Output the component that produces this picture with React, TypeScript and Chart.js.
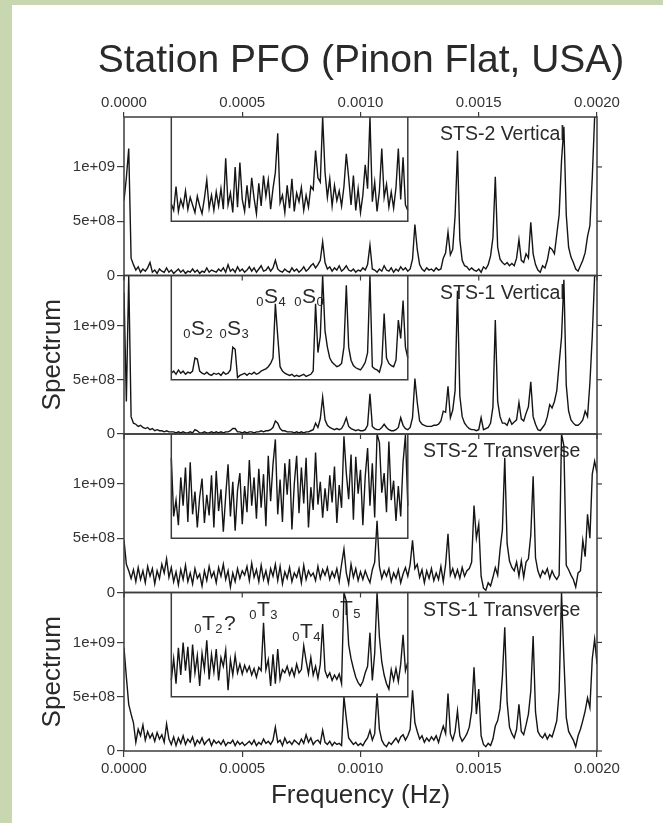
import React, { useEffect, useRef } from "react";
import { Chart, registerables } from "chart.js";

Chart.register(...registerables);

const FONT = "'Liberation Sans', Arial, Helvetica, sans-serif";

// ---- data (spectrum amplitude in units of 1e8, sampled every 10 µHz) ----
const FREQ_STEP_UHZ = 10;
const MAIN_START_UHZ = 0;
const INSET_START_UHZ = 200;
const INSET_END_UHZ = 1200;
const INSET_BASE = 5; // inset box sits on the 5e+08 level
const Y_MAX = 14.6;

const xTickValues = [0, 0.0005, 0.001, 0.0015, 0.002];
const yTickValues = [0, 5, 10];
const yTickLabels = ["0", "5e+08", "1e+09"];

const panelNames = ["STS-2 Vertical", "STS-1 Vertical", "STS-2 Transverse", "STS-1 Transverse"];

const sts2Vertical = [
  6.9, 9.0, 11.7, 1.6, 1.0, 0.5, 0.8, 0.3, 0.6, 0.4,
  0.7, 1.2, 0.3, 0.5, 0.2, 0.6, 0.4, 0.3, 0.7, 0.3,
  0.5, 0.2, 0.4, 0.6, 0.3, 0.5, 0.2, 0.4, 0.3, 0.6,
  0.3, 0.5, 0.2, 0.4, 0.3, 0.7, 0.3, 0.5, 0.4, 0.3,
  0.6, 0.4, 0.7, 0.3, 1.0, 0.4, 0.6, 0.3, 0.8, 0.4,
  0.6, 0.3, 0.5, 0.8, 0.4, 0.7, 0.3, 0.6, 0.9, 0.4,
  0.5, 0.8, 0.4, 0.7, 1.4, 0.6, 0.4, 0.3, 0.6, 0.4,
  0.3, 0.7, 0.4, 0.6, 0.3, 0.5, 0.8, 0.4, 0.6, 0.9,
  1.1, 0.7, 1.0, 1.4, 3.1, 1.2, 0.6, 0.8, 0.4, 0.7,
  0.5, 0.9, 0.4, 0.6, 0.9, 0.5, 0.4, 0.6, 0.3, 0.5,
  0.4, 0.7, 0.5, 1.0, 2.8, 0.6, 0.5, 0.3, 0.6, 0.4,
  0.9, 0.5, 0.4, 0.7, 0.3, 0.6, 0.4, 0.8, 0.5, 0.7,
  0.4, 0.6, 1.5, 4.7, 2.4, 1.0, 0.6, 0.4, 0.7, 0.5,
  0.6, 0.4, 0.7, 0.5, 0.6, 1.6, 2.1, 4.0, 1.9, 2.4,
  5.5, 11.5, 3.3, 1.4, 0.9, 0.8, 0.5, 0.7, 0.5, 0.4,
  0.6, 0.3, 0.8, 0.6, 1.0, 1.8, 3.5, 9.1, 2.6, 1.5,
  1.2, 1.0, 1.2, 0.9, 1.1, 0.9, 1.6, 3.3, 1.4, 1.2,
  2.0, 1.6, 4.9, 2.0, 1.0, 0.5, 0.3, 0.9, 0.7, 1.4,
  2.6, 2.4, 2.0, 3.8, 5.6, 10.6, 13.7, 5.6, 2.6, 1.7,
  1.2, 0.6, 0.4, 0.9, 1.4, 2.1, 3.6, 4.6, 9.0, 14.6,
  14.6,
];

const sts1Vertical = [
  13.0, 3.0, 14.6, 1.6, 1.0, 0.9, 0.7, 0.8, 0.6, 0.5,
  0.6, 0.4, 0.5, 0.3, 0.4, 0.3, 0.3, 0.2, 0.3, 0.2,
  0.2, 0.2, 0.1, 0.2, 0.1, 0.2, 0.1, 0.1, 0.2, 0.1,
  0.4, 0.3, 0.1, 0.1, 0.2, 0.1, 0.1, 0.2, 0.1, 0.2,
  0.1, 0.2, 0.1, 0.2, 0.2, 0.3, 0.5, 0.5, 0.2, 0.2,
  0.1, 0.2, 0.1, 0.2, 0.2, 0.1, 0.2, 0.2, 0.3, 0.2,
  0.3, 0.3, 0.4, 0.6, 1.2, 1.0, 0.5, 0.3, 0.3, 0.2,
  0.2, 0.2, 0.1, 0.2, 0.1, 0.2, 0.1, 0.2, 0.2, 0.3,
  0.4, 1.0, 0.6, 1.4, 3.4, 1.3, 0.8, 0.6, 0.5, 0.4,
  0.5, 0.4, 0.5, 0.9, 1.5, 0.7, 0.5, 0.4, 0.3, 0.4,
  0.3, 0.3, 0.4, 0.8, 3.7, 0.7, 0.5, 0.4, 0.4, 0.6,
  0.9, 0.6, 0.4, 0.3, 0.3, 0.4, 0.6, 1.5, 0.8, 0.5,
  0.4, 0.6, 1.5, 5.1, 2.9, 1.2, 0.9, 0.8, 0.7, 0.7,
  0.7, 0.8, 0.8, 0.9, 1.2, 2.1, 2.0, 4.4, 1.5, 2.2,
  4.0, 13.2, 3.5, 1.6, 1.0, 0.7, 0.5, 0.4, 0.4, 0.3,
  0.4, 1.5, 0.4, 0.5, 0.6, 1.0, 2.5, 10.5, 3.0, 1.6,
  1.0, 1.0, 0.8, 1.4, 0.9, 1.1, 1.3, 2.9, 1.4, 1.2,
  1.9, 2.5, 4.8, 1.6, 0.9, 0.4, 0.3, 0.6, 0.9, 1.6,
  2.7, 2.4, 3.0, 4.0, 6.5, 8.9, 14.2, 4.5, 2.1, 1.3,
  1.0, 0.8, 0.8, 1.0, 1.3, 2.1, 1.6, 4.7, 9.0, 14.6,
  14.6,
];

const sts2Transverse = [
  4.8, 2.6, 2.0, 1.3, 2.1, 1.0, 2.3, 1.2, 2.0, 0.9,
  2.4, 1.5, 2.2, 0.8, 2.0, 1.3, 2.6, 1.8, 3.1, 1.4,
  2.3, 1.0, 1.9, 0.7, 2.1, 1.2, 2.5, 1.0, 1.8, 0.8,
  2.2, 1.3, 1.7, 0.6, 2.0, 1.1, 2.4, 1.4, 1.9, 0.9,
  2.3, 1.5, 2.6, 1.2, 2.0, 0.5, 1.8, 1.0, 2.2, 1.3,
  2.0, 1.6, 2.4, 1.1, 2.7, 1.4, 2.1, 1.0, 2.5, 1.2,
  2.0, 0.9, 2.2, 1.5, 2.6, 1.1, 2.4, 0.8, 1.9, 1.3,
  2.3, 1.0, 1.8, 1.4, 2.2, 0.9, 2.5, 1.2, 2.0, 1.5,
  1.8, 1.1, 2.4, 1.3, 2.1, 1.6, 2.3, 1.2, 1.9, 1.4,
  2.2, 1.0, 2.6, 4.0, 1.8, 0.8, 2.6, 1.4, 2.2, 1.1,
  1.9, 1.2, 2.0, 1.4, 0.9, 2.1, 2.8, 6.6, 2.4, 1.3,
  2.0, 1.5, 2.2, 1.0, 1.8, 1.3, 2.1, 0.9, 1.7, 2.3,
  1.5, 2.6, 4.8, 2.2, 2.6, 1.4, 2.1, 0.9, 2.0, 1.3,
  2.2, 1.1, 1.8, 1.2, 2.4, 1.0, 2.6, 5.4, 1.6, 2.2,
  1.4, 2.1, 1.3, 2.3, 1.5, 2.0, 2.2, 2.8, 8.0, 5.0,
  6.3, 1.5, 0.4, 0.2, 0.9, 0.6, 1.4, 2.3, 1.6, 3.9,
  5.8, 12.4, 4.5, 2.9, 2.3, 2.0, 2.8, 1.5, 2.9, 1.4,
  2.8, 3.1, 5.3, 10.7, 3.2, 2.0, 1.4, 2.0, 1.7, 2.2,
  1.3, 2.0, 1.5, 1.2, 1.6, 14.6, 13.5, 2.5, 2.1, 1.6,
  1.2, 0.5, 1.8, 2.0, 4.8, 3.3, 7.2, 5.0, 10.9, 12.1,
  11.0,
];

const sts1Transverse = [
  9.5, 6.8, 4.3, 3.4, 2.6, 0.8, 2.0, 1.4, 2.4, 1.0,
  1.8, 1.2, 1.6, 0.9, 1.7, 1.1, 1.5, 0.8, 2.5, 1.1,
  0.6, 1.3, 0.5, 1.2, 0.7, 1.4, 0.6, 1.1, 0.8, 1.3,
  0.5, 1.0, 0.7, 1.2, 0.6, 0.9, 1.1, 0.5, 1.0, 0.7,
  0.9, 0.6, 1.0, 0.5, 0.8, 0.7, 1.0, 0.5, 0.9, 0.6,
  0.8, 0.5, 0.7, 0.9, 0.6, 1.0, 0.5, 0.8, 0.6, 1.1,
  0.7, 0.9, 0.6, 1.0, 2.2, 0.8, 1.0, 0.5, 1.2, 0.7,
  0.9, 0.6, 1.0, 0.8, 0.6, 1.1, 0.7, 1.5, 0.8, 1.2,
  0.6, 0.9, 1.0, 0.7, 1.9, 0.8, 0.6, 0.9, 0.5, 0.8,
  0.6, 0.7, 0.5, 5.0, 3.0, 1.2, 0.9, 0.6, 0.8, 0.5,
  0.7, 0.5, 0.9, 1.2, 1.9, 1.0, 1.6, 5.3, 2.0, 1.0,
  0.6, 0.4, 0.8, 0.6, 0.9, 1.2, 0.8, 1.3, 1.5, 1.0,
  1.4, 2.0, 5.6, 2.6, 1.8, 1.1, 1.4, 0.8, 1.2, 0.9,
  1.3, 1.0, 1.4, 0.8, 1.6, 2.3, 1.6, 5.3, 1.6, 1.0,
  1.8, 3.7, 1.4, 0.9, 1.2, 1.6, 2.2, 3.7, 7.7, 3.4,
  5.7, 1.4, 0.6, 0.4, 0.7, 0.5, 1.1, 2.3, 2.8, 3.9,
  6.9, 11.4, 4.5, 2.2, 1.6, 1.2, 2.0, 4.3, 1.8, 1.5,
  2.4, 3.4, 5.5, 10.6, 3.6, 1.8, 1.4, 1.2, 1.6, 1.1,
  1.5, 1.3, 2.0, 2.8, 5.5, 14.6, 8.5, 3.1, 1.8, 1.4,
  1.0, 0.4, 1.4, 2.0, 2.8, 3.7, 4.9, 4.0, 8.5, 10.3,
  8.0,
];

// magnified views, 0.2–1.2 mHz, drawn inside the inset box (values on the panel's axis)
const sts2VerticalInset = [
  6.6, 6.0, 8.2, 5.9, 7.0, 6.3, 7.8, 6.1, 7.2, 6.5,
  5.8, 7.3, 6.4, 5.7, 7.1, 8.8, 6.2, 7.4, 6.0, 7.7,
  6.4, 8.0, 6.1, 10.8, 6.5, 7.6, 5.8, 10.0, 6.3, 10.4,
  7.0, 5.9, 8.3, 6.2, 9.0, 7.1, 5.7, 8.5, 6.4, 9.2,
  7.3, 8.8, 6.1, 8.0, 9.5, 13.1, 6.7, 7.4, 5.8, 8.3,
  6.2, 8.9, 5.9, 7.6, 6.8, 8.1, 6.0, 7.4, 6.3, 8.2,
  7.9, 11.5, 9.0, 8.6, 14.6, 9.5, 7.2, 8.9, 6.4, 8.3,
  6.9, 7.8, 6.4, 8.2, 11.2, 9.0, 6.5, 9.2, 6.0, 8.0,
  5.8, 7.4, 10.2, 8.0, 14.6, 6.8, 8.6, 5.9, 7.8, 11.7,
  7.2, 8.4, 6.3, 7.7, 6.2, 8.1, 11.7, 7.0, 10.9, 6.5,
  6.0,
];

const sts1VerticalInset = [
  5.6, 5.8, 5.5, 5.9, 5.6, 5.8, 5.5, 5.7, 5.6, 5.8,
  7.0, 6.9, 5.8, 5.6, 5.5, 5.7, 5.5, 5.4, 5.6, 5.5,
  5.6, 5.4, 5.7, 5.5, 5.6, 5.9, 8.0, 7.8, 5.2, 5.4,
  5.5, 5.6, 5.4, 5.6, 5.5, 5.7, 5.5, 5.6, 5.8, 5.9,
  6.0, 6.2, 6.5, 7.0, 12.0, 9.0, 6.2, 5.8, 5.6, 5.5,
  5.4, 5.5, 5.3, 5.4, 5.3, 5.4, 5.5, 5.3, 5.4, 5.5,
  5.8, 12.0, 7.5, 9.0, 14.6, 9.5, 8.0, 7.0, 6.6, 6.4,
  6.2, 6.3, 6.5, 8.0, 13.7, 8.0, 6.8, 6.3, 6.1, 6.0,
  5.9, 6.2, 6.6, 7.5, 14.6, 6.2, 6.0, 5.9, 5.7, 6.5,
  11.1, 7.0, 6.5, 6.3, 6.2, 6.8, 10.5, 8.8, 12.3, 8.0,
  7.0,
];

const sts2TransverseInset = [
  12.4, 7.0, 8.5, 6.2, 10.6, 8.0, 11.5, 6.5, 12.0, 7.2,
  9.3, 6.0, 8.8, 10.5, 6.4, 9.0, 7.1, 10.8, 6.0, 11.2,
  7.5, 9.5, 5.6, 8.9, 11.8, 7.0, 10.2, 5.7, 9.4, 11.0,
  6.3, 9.8, 7.4, 12.2, 8.0, 10.6, 6.8, 11.4, 7.8, 10.9,
  6.1, 12.6, 8.4, 11.8, 14.1, 7.2, 10.4, 6.5, 11.9, 9.0,
  12.3, 5.8, 10.0, 12.6, 7.3, 11.5, 8.2, 12.4, 6.0, 9.7,
  7.6, 12.9, 8.1, 10.2, 6.9, 9.6, 7.5, 10.8, 8.3, 11.6,
  6.4, 9.9, 7.8, 14.4, 11.0, 8.6, 12.7, 6.7, 12.5, 9.1,
  11.3, 6.2, 10.7, 13.3, 8.0, 11.9, 6.9, 14.6, 13.8, 9.2,
  11.0, 7.4, 13.9, 8.5, 10.3, 6.6, 9.8, 7.0, 12.0, 14.5,
  8.0,
];

const sts1TransverseInset = [
  6.5, 8.5, 6.2, 9.5, 7.0, 10.0, 7.4, 9.6, 6.3, 9.8,
  7.2, 8.8, 6.0, 9.0, 7.5, 10.2, 6.6, 8.9, 7.3, 9.4,
  6.5, 8.6, 7.8, 9.3, 5.6, 8.4, 7.0, 8.8, 7.2, 8.0,
  7.1, 7.9, 7.3, 7.8, 7.0, 7.6, 6.8, 7.7, 7.4, 11.8,
  7.5, 8.4, 6.0, 8.9, 6.2, 9.4, 6.6, 7.5, 7.2, 7.8,
  7.0, 7.6, 6.9, 8.0, 7.2, 7.5, 9.7, 8.3, 7.1, 8.6,
  7.0, 7.8, 6.7, 8.0, 11.7, 7.4, 6.8, 7.2, 6.5, 7.0,
  6.6, 7.1, 6.2, 14.6, 13.8, 9.8, 8.5, 7.6, 6.8, 6.3,
  6.0, 6.4, 7.2, 7.8, 10.9, 6.5, 9.0, 14.6, 10.5, 8.2,
  7.0, 6.2, 5.7, 7.5, 6.5, 7.6, 6.4, 8.0, 10.7, 7.4,
  8.2,
];

// mode annotations: panel index, subscript before, letter, subscript after, tail, anchor (µHz, 1e8)
const modeNotes = [
  { panel: 1, pre: "0", main: "S", post: "2", tail: "", f: 283, v: 9.8 },
  { panel: 1, pre: "0", main: "S", post: "3", tail: "", f: 436, v: 9.8 },
  { panel: 1, pre: "0", main: "S", post: "4", tail: "", f: 592, v: 12.8 },
  { panel: 1, pre: "0", main: "S", post: "0", tail: "", f: 753, v: 12.8 },
  { panel: 3, pre: "0", main: "T", post: "2", tail: "?", f: 330, v: 11.8 },
  { panel: 3, pre: "0", main: "T", post: "3", tail: "", f: 562, v: 13.1 },
  { panel: 3, pre: "0", main: "T", post: "4", tail: "", f: 744, v: 11.1 },
  { panel: 3, pre: "0", main: "T", post: "5", tail: "", f: 913, v: 13.2 },
];

const panelMain = [sts2Vertical, sts1Vertical, sts2Transverse, sts1Transverse];
const panelInset = [sts2VerticalInset, sts1VerticalInset, sts2TransverseInset, sts1TransverseInset];
const panelAxisIds = ["y1", "y2", "y3", "y4"];
const panelLabelFreqUHz = [1336, 1336, 1264, 1264];

const toPoints = (vals: number[], startUHz: number) =>
  vals.map((v, i) => ({ x: (startUHz + i * FREQ_STEP_UHZ) * 1e-6, y: v }));

const LINE = "#151515";
const FRAME = "#3c3c3c";
const TEXT = "#2a2a2a";

const decorPlugin = {
  id: "decor",
  beforeDraw(chart: any) {
    const { ctx, width, height } = chart;
    ctx.save();
    ctx.fillStyle = "#c9d7b1";
    ctx.fillRect(0, 0, width, height);
    ctx.fillStyle = "#ffffff";
    ctx.fillRect(12, 5, width - 12, height - 5);
    ctx.fillStyle = TEXT;
    ctx.font = `39px ${FONT}`;
    ctx.textAlign = "center";
    ctx.textBaseline = "alphabetic";
    ctx.fillText("Station PFO (Pinon Flat, USA)", 361, 72);
    ctx.restore();
  },
  beforeDatasetsDraw(chart: any) {
    const { ctx } = chart;
    const xs = chart.scales.x;
    ctx.save();
    ctx.fillStyle = TEXT;
    ctx.textAlign = "left";
    ctx.textBaseline = "middle";
    ctx.font = `19.5px ${FONT}`;
    panelAxisIds.forEach((id, i) => {
      const s = chart.scales[id];
      ctx.fillText(panelNames[i], xs.getPixelForValue(panelLabelFreqUHz[i] * 1e-6), s.top + 18);
    });
    ctx.textBaseline = "alphabetic";
    modeNotes.forEach((n) => {
      const s = chart.scales[panelAxisIds[n.panel]];
      const x = xs.getPixelForValue(n.f * 1e-6);
      const base = s.getPixelForValue(n.v) + 7.5;
      ctx.font = `13px ${FONT}`;
      const pw = ctx.measureText(n.pre).width;
      ctx.fillText(n.pre, x - pw - 0.5, base + 3);
      ctx.font = `21px ${FONT}`;
      ctx.fillText(n.main, x, base);
      const mw = ctx.measureText(n.main).width;
      ctx.font = `13px ${FONT}`;
      ctx.fillText(n.post, x + mw + 0.5, base + 3);
      const qw = ctx.measureText(n.post).width;
      if (n.tail) {
        ctx.font = `21px ${FONT}`;
        ctx.fillText(n.tail, x + mw + qw + 2, base);
      }
    });
    ctx.restore();
  },
  afterDatasetsDraw(chart: any) {
    const { ctx, chartArea } = chart;
    const xs = chart.scales.x;
    ctx.save();
    ctx.strokeStyle = FRAME;
    ctx.lineWidth = 1.5;
    panelAxisIds.forEach((id, i) => {
      const s = chart.scales[id];
      ctx.strokeRect(chartArea.left, s.top, chartArea.right - chartArea.left, s.bottom - s.top);
      const ix0 = xs.getPixelForValue(INSET_START_UHZ * 1e-6);
      const ix1 = xs.getPixelForValue(INSET_END_UHZ * 1e-6);
      const iyb = s.getPixelForValue(INSET_BASE);
      ctx.beginPath();
      ctx.moveTo(ix0, s.top);
      ctx.lineTo(ix0, iyb);
      ctx.lineTo(ix1, iyb);
      ctx.lineTo(ix1, s.top);
      ctx.stroke();
      ctx.lineWidth = 1.2;
      yTickValues.forEach((v) => {
        const y = s.getPixelForValue(v);
        ctx.beginPath();
        ctx.moveTo(chartArea.right, y);
        ctx.lineTo(chartArea.right + 5, y);
        ctx.stroke();
      });
      if (i < 3) {
        xTickValues.forEach((v) => {
          const x = xs.getPixelForValue(v);
          ctx.beginPath();
          ctx.moveTo(x, s.bottom);
          ctx.lineTo(x, s.bottom + 5);
          ctx.stroke();
        });
      }
      ctx.lineWidth = 1.5;
    });
    ctx.restore();
  },
};

const xTickCallback = (v: any) => Number(v).toFixed(4);

function makeXScale(position: "top" | "bottom") {
  const isBottom = position === "bottom";
  return {
    type: "linear",
    position,
    min: 0,
    max: 0.002,
    afterBuildTicks: (s: any) => {
      s.ticks = xTickValues.map((v) => ({ value: v }));
    },
    afterFit: (s: any) => {
      s.height = isBottom ? 72 : 117;
    },
    ticks: {
      callback: xTickCallback,
      autoSkip: false,
      maxRotation: 0,
      color: "#333",
      padding: isBottom ? 3 : 0,
      font: { family: FONT, size: 15 },
    },
    grid: { drawOnChartArea: false, tickLength: isBottom ? 6 : 5, color: FRAME, lineWidth: 1.2 },
    border: { display: false },
    title: {
      display: isBottom,
      text: "Frequency (Hz)",
      color: TEXT,
      font: { family: FONT, size: 26 },
      padding: { top: 0, bottom: 12 },
    },
  };
}

function makeYScale(i: number) {
  return {
    type: "linear",
    position: "left",
    stack: "panels",
    stackWeight: 1,
    weight: 4 - i,
    min: 0,
    max: Y_MAX,
    afterBuildTicks: (s: any) => {
      s.ticks = yTickValues.map((v) => ({ value: v }));
    },
    afterFit: (s: any) => {
      s.width = 124;
    },
    ticks: {
      callback: (v: any) => yTickLabels[yTickValues.indexOf(Number(v))] ?? "",
      color: "#333",
      padding: 2,
      font: { family: FONT, size: 15 },
    },
    grid: { drawOnChartArea: false, tickLength: 7, color: FRAME, lineWidth: 1.2 },
    border: { display: false },
    title: {
      display: i === 1 || i === 3,
      text: "Spectrum",
      color: TEXT,
      font: { family: FONT, size: 26 },
      padding: { top: 37, bottom: 0 },
    },
  };
}

export default function App() {
  const ref = useRef<HTMLCanvasElement>(null);

  useEffect(() => {
    if (!ref.current) return;
    const datasets: any[] = [];
    panelAxisIds.forEach((id, i) => {
      datasets.push({
        data: toPoints(panelMain[i], MAIN_START_UHZ),
        xAxisID: "x",
        yAxisID: id,
        borderColor: LINE,
        borderWidth: 1.4,
        pointRadius: 0,
        tension: 0,
        fill: false,
      });
      datasets.push({
        data: toPoints(panelInset[i], INSET_START_UHZ),
        xAxisID: "x",
        yAxisID: id,
        borderColor: LINE,
        borderWidth: 1.4,
        pointRadius: 0,
        tension: 0,
        fill: false,
      });
    });

    const scales: any = {
      x: makeXScale("bottom"),
      x2: makeXScale("top"),
    };
    panelAxisIds.forEach((id, i) => {
      scales[id] = makeYScale(i);
    });

    const chart = new Chart(ref.current, {
      type: "line",
      data: { datasets },
      options: {
        responsive: false,
        animation: false,
        devicePixelRatio: 1,
        layout: { padding: { left: 0, top: 0, right: 66, bottom: 0 } },
        plugins: { legend: { display: false }, tooltip: { enabled: false }, title: { display: false } },
        scales,
      } as any,
      plugins: [decorPlugin],
    });
    return () => chart.destroy();
  }, []);

  return (
    <canvas
      ref={ref}
      width={663}
      height={823}
      style={{ position: "absolute", left: 0, top: 0, width: 663, height: 823 }}
    />
  );
}
